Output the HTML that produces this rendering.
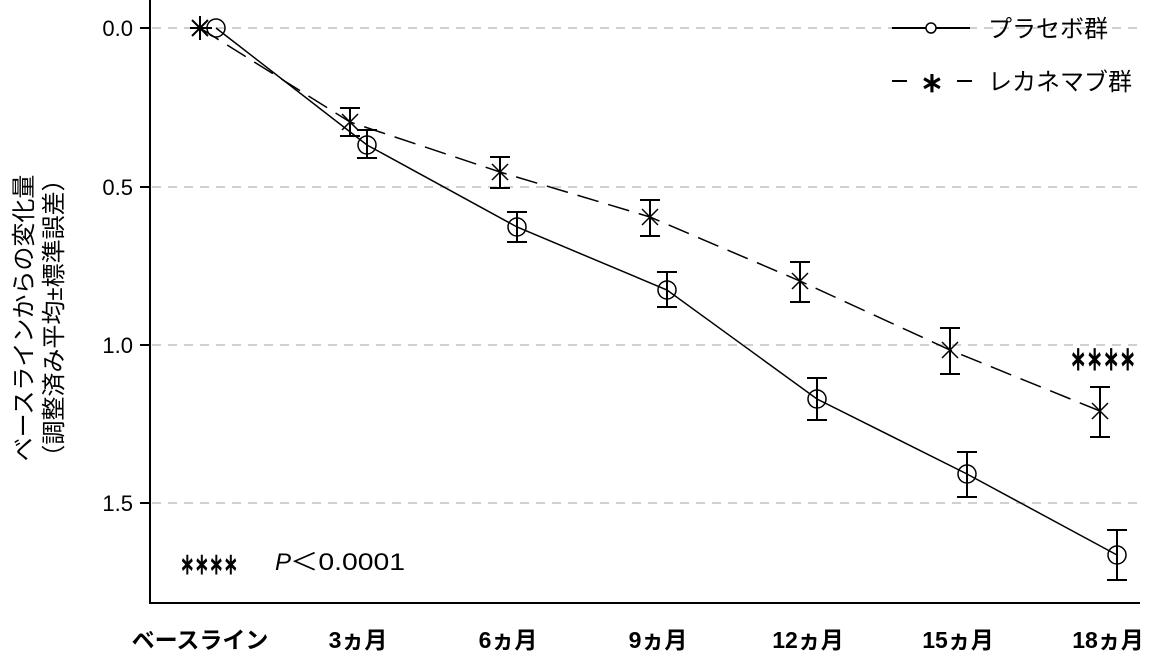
<!DOCTYPE html><html><head><meta charset="utf-8"><style>body{margin:0;background:#fff}svg{display:block}text{font-family:"Liberation Sans","Noto Sans CJK JP",sans-serif;fill:#000}</style></head><body>
<svg width="1152" height="659" viewBox="0 0 1152 659">
<g stroke="#d0d0d0" stroke-width="2" stroke-dasharray="9,7">
<line x1="152" y1="28" x2="1140" y2="28"/><line x1="152" y1="187" x2="1140" y2="187"/><line x1="152" y1="345" x2="1140" y2="345"/><line x1="152" y1="503" x2="1140" y2="503"/></g>
<g stroke="#000" stroke-width="2"><line x1="150" y1="0" x2="150" y2="604"/><line x1="149" y1="603" x2="1140" y2="603"/>
<line x1="140" y1="28" x2="150" y2="28"/><line x1="140" y1="187" x2="150" y2="187"/><line x1="140" y1="345" x2="150" y2="345"/><line x1="140" y1="503" x2="150" y2="503"/></g>
<g font-size="22" text-anchor="end"><text x="133" y="36">0.0</text><text x="133" y="195">0.5</text><text x="133" y="353">1.0</text><text x="133" y="511">1.5</text></g>
<text transform="translate(32,318) rotate(-90)" text-anchor="middle" font-size="24">ベースラインからの変化量</text>
<text transform="translate(62,318) rotate(-90)" text-anchor="middle" font-size="24">（調整済み平均±標準誤差）</text>
<g font-size="23" font-weight="bold" text-anchor="middle"><text x="200" y="648">ベースライン</text><text x="358" y="648">3ヵ月</text><text x="508" y="648">6ヵ月</text><text x="658" y="648">9ヵ月</text><text x="808" y="648">12ヵ月</text><text x="958" y="648">15ヵ月</text><text x="1108" y="648">18ヵ月</text></g>
<polyline fill="none" stroke="#000" stroke-width="1.5" points="216,28 367,145 517,227 667,290 817,399 967,474 1117,555"/>
<polyline fill="none" stroke="#000" stroke-width="1.5" stroke-dasharray="22,10" points="200,28 350,122 500,172 650,217 800,281 950,350 1100,411"/>
<g stroke="#000" stroke-width="2" fill="none">
<path d="M367,130V158M357,130H377M357,158H377"/><path d="M517,212V242M507,212H527M507,242H527"/><path d="M667,272V307M657,272H677M657,307H677"/><path d="M817,378V420M807,378H827M807,420H827"/><path d="M967,452V497M957,452H977M957,497H977"/><path d="M1117,530V580M1107,530H1127M1107,580H1127"/>
<path d="M350,108V136M340,108H360M340,136H360"/><path d="M500,157V188M490,157H510M490,188H510"/><path d="M650,200V236M640,200H660M640,236H660"/><path d="M800,262V302M790,262H810M790,302H810"/><path d="M950,328V374M940,328H960M940,374H960"/><path d="M1100,387V437M1090,387H1110M1090,437H1110"/>
</g>
<g stroke="#000" stroke-width="1.5" fill="none"><circle cx="216" cy="28" r="9"/><circle cx="367" cy="145" r="9"/><circle cx="517" cy="227" r="9"/><circle cx="667" cy="290" r="9"/><circle cx="817" cy="399" r="9"/><circle cx="967" cy="474" r="9"/><circle cx="1117" cy="555" r="9"/></g>
<g stroke="#000" stroke-width="1.5">
<path d="M192,20l16,16M192,36l16,-16M200,16V40M190,28H212" stroke-width="2"/>
<path d="M342,114l16,16M342,130l16,-16"/><path d="M492,164l16,16M492,180l16,-16"/><path d="M642,209l16,16M642,225l16,-16"/><path d="M792,273l16,16M792,289l16,-16"/><path d="M942,342l16,16M942,358l16,-16"/><path d="M1092,403l16,16M1092,419l16,-16"/></g>
<text x="1070" y="370" font-size="34" stroke="#000" stroke-width="1" style="font-family:'DejaVu Sans',sans-serif" textLength="66" lengthAdjust="spacingAndGlyphs">∗∗∗∗</text>
<text x="180" y="574" font-size="30" stroke="#000" stroke-width="1" style="font-family:'DejaVu Sans',sans-serif" textLength="58" lengthAdjust="spacingAndGlyphs">∗∗∗∗</text>
<text x="275" y="570" font-size="24" font-style="italic">P</text><text x="290" y="570" font-size="24" textLength="115" lengthAdjust="spacingAndGlyphs">＜0.0001</text>
<g stroke="#000" stroke-width="2"><line x1="892" y1="28" x2="970" y2="28"/><line x1="892" y1="81" x2="907" y2="81"/><line x1="957" y1="81" x2="972" y2="81"/></g>
<circle cx="931" cy="28" r="5" fill="#fff" stroke="#000" stroke-width="1.5"/>
<text x="932" y="92" font-size="28" stroke="#000" stroke-width="0.8" text-anchor="middle" style="font-family:'DejaVu Sans',sans-serif">∗</text>
<text x="988" y="37" font-size="24">プラセボ群</text><text x="988" y="90" font-size="24">レカネマブ群</text>
</svg></body></html>
